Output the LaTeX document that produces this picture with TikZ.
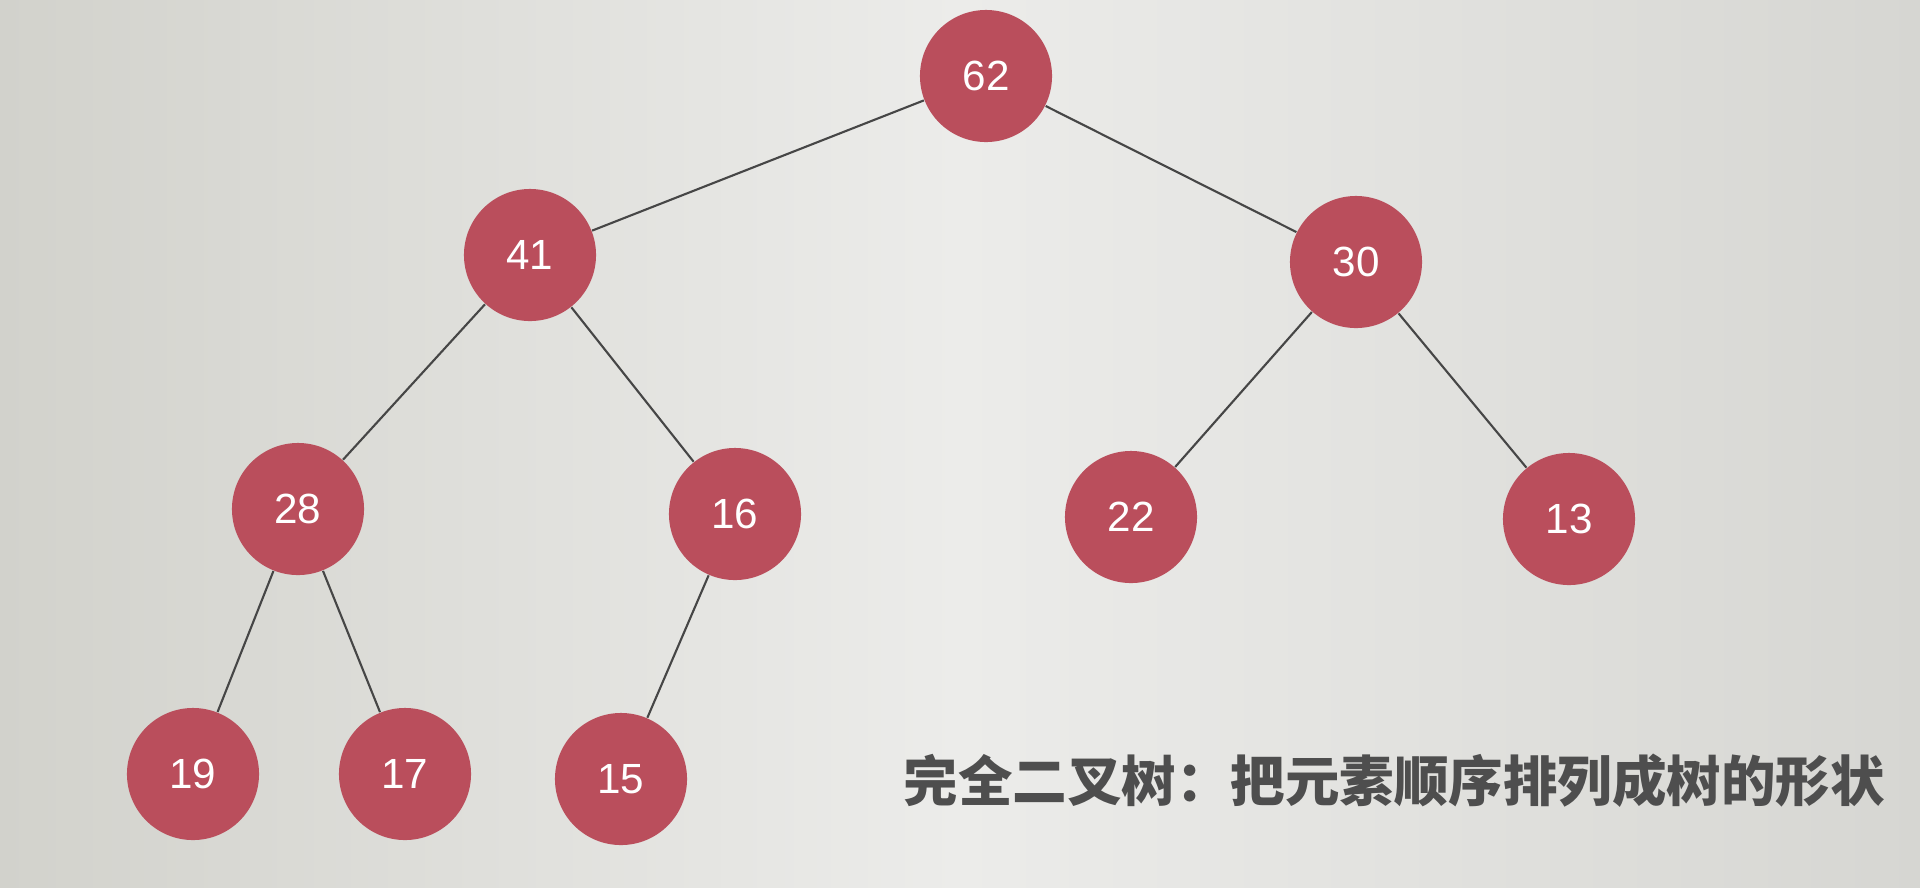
\documentclass[tikz,border=0pt]{standalone}
\usepackage{fontspec}
\setmainfont{Liberation Sans}
\newfontfamily\cjk{Noto Sans CJK SC}
\definecolor{nodered}{RGB}{186,78,92}
\definecolor{edgecol}{RGB}{70,70,70}
\definecolor{txtcol}{RGB}{78,78,78}
\definecolor{bgleft}{RGB}{210,210,204}
\definecolor{bgmid}{RGB}{236,236,234}
\definecolor{bgright}{RGB}{214,214,210}
\tikzset{
  tnode/.style={circle, fill=nodered, minimum size=1.32cm, inner sep=0pt,
    text=white, font=\fontsize{12}{12}\selectfont},
  tedge/.style={draw=edgecol, line width=0.6pt}
}
\begin{document}
\begin{tikzpicture}[x=0.01cm, y=-0.01cm]
\useasboundingbox (0,0) rectangle (1920,887);
\shade[left color=bgleft, right color=bgright, middle color=bgmid] (0,0) rectangle (1920,887);
\node[tnode] (n62) at (986,76) {62};
\node[tnode] (n41) at (530,255) {41};
\node[tnode] (n30) at (1356,262) {30};
\node[tnode] (n28) at (298,509) {28};
\node[tnode] (n16) at (735,514) {16};
\node[tnode] (n22) at (1131,517) {22};
\node[tnode] (n13) at (1569,519) {13};
\node[tnode] (n19) at (193,774) {19};
\node[tnode] (n17) at (405,774) {17};
\node[tnode] (n15) at (621,779) {15};
\draw[tedge] (n62) -- (n41);
\draw[tedge] (n62) -- (n30);
\draw[tedge] (n41) -- (n28);
\draw[tedge] (n41) -- (n16);
\draw[tedge] (n30) -- (n22);
\draw[tedge] (n30) -- (n13);
\draw[tedge] (n28) -- (n19);
\draw[tedge] (n28) -- (n17);
\draw[tedge] (n16) -- (n15);
\node[anchor=west, inner sep=0pt, text=txtcol, font=\cjk\bfseries\fontsize{15.5}{15.5}\selectfont] (cap) at (903,781) {完全二叉树：把元素顺序排列成树的形状};
\end{tikzpicture}
\end{document}
